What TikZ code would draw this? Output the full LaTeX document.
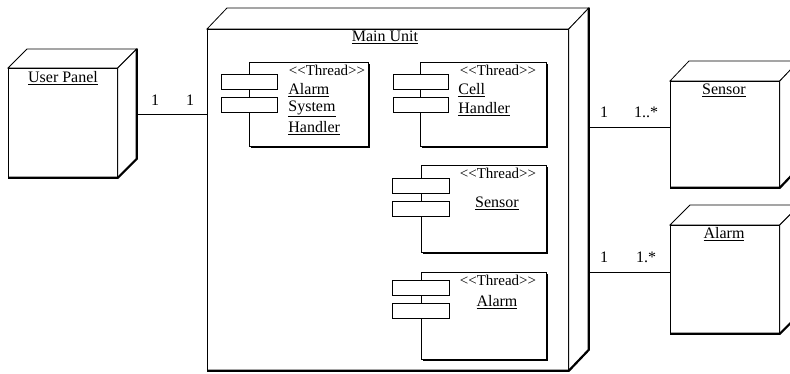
\documentclass[tikz,border=0pt]{standalone}
\usepackage{fontspec}
\setmainfont{Liberation Serif}[Ligatures=TeXOff]
\usetikzlibrary{calc}
\newcommand\mycube[7]{% name, x1,y1,x2,y2,dx,dy
  \node[draw, fill=white, inner sep=0pt, anchor=north west,
        minimum width=#4-#2, minimum height=#5-#3] (#1) at (#2,#3) {};
  \draw[fill=white] (#1.north west) -- ++(#6,-#7) -- ($(#1.north east)+(#6,-#7)$) -- (#1.north east) -- cycle;
  \draw[fill=white] (#1.north east) -- ($(#1.north east)+(#6,-#7)$) -- ($(#1.south east)+(#6,-#7)$) -- (#1.south east) -- cycle;
  \draw[line width=2.2pt] (#1.south west) -- (#1.south east) -- ($(#1.south east)+(#6,-#7)$) -- ($(#1.north east)+(#6,-#7)$);
}
\newcommand\mycomp[8]{% name, x1,y1,x2,y2, port x1, port x2, port y offset
  \draw[line width=2.2pt] (#2+2,#5+1) -- (#4+1,#5+1) -- (#4+1,#3+2);
  \node[draw, fill=white, inner sep=0pt, anchor=north west,
        minimum width=#4-#2, minimum height=#5-#3] (#1) at (#2,#3) {};
  \node[draw, fill=white, inner sep=0pt, anchor=north west,
        minimum width=#7-#6, minimum height=15] (#1p1) at (#6,#3+#8) {};
  \node[draw, fill=white, inner sep=0pt, anchor=north west,
        minimum width=#7-#6, minimum height=15] (#1p2) at (#6,#3+#8+23) {};
}
\begin{document}
\begin{tikzpicture}[x=1pt,y=-1pt,line width=0.8pt,
  lbl/.style={font=\fontsize{16}{18}\selectfont, inner sep=0pt},
  stereo/.style={font=\fontsize{15}{17}\selectfont, inner sep=0pt}]
\useasboundingbox (0,0) rectangle (790,374);
\clip (0,0) rectangle (790,374);
\fill[white] (0,0) rectangle (790,374);

% cubes
\mycube{up}{8}{68}{117}{177}{19}{19}
\mycube{mu}{207}{29}{568}{370}{20}{21}
\mycube{sn}{670}{81}{779}{187}{19}{20}
\mycube{al}{670}{225}{779}{333}{20}{20}

\node[lbl] (upt) at (63,78) {\underline{User Panel}};
\node[lbl] (mut) at (385,37) {\underline{Main Unit}};
\node[lbl] (snt) at (724,90) {\underline{Sensor}};
\node[lbl] (alt) at (724,234) {\underline{Alarm}};

% components
\mycomp{c1}{249}{62}{368}{146}{221}{277}{12}
\mycomp{c2}{420}{62}{546}{146}{393}{448}{12}
\mycomp{c3}{421}{165}{546}{252}{392}{449}{13}
\mycomp{c4}{421}{272}{546}{359}{392}{449}{8}

\node[stereo] (c1s) at (327,70) {<<Thread>>};
\node[lbl, anchor=west] (c1a) at (288,90) {\underline{Alarm}};
\node[lbl, anchor=west] (c1b) at (288,109) {\underline{System}};
\node[lbl, anchor=west] (c1c) at (288,128) {\underline{Handler}};

\node[stereo] (c2s) at (498,70) {<<Thread>>};
\node[lbl, anchor=west] (c2a) at (458,90) {\underline{Cell}};
\node[lbl, anchor=west] (c2b) at (458,109) {\underline{Handler}};

\node[stereo] (c3s) at (498,173) {<<Thread>>};
\node[lbl] (c3a) at (497,203) {\underline{Sensor}};

\node[stereo] (c4s) at (498,280) {<<Thread>>};
\node[lbl] (c4a) at (497,302) {\underline{Alarm}};

% connectors
\coordinate (upR) at ($(up.east)+(19,-8)$);
\coordinate (muR1) at (588,127);
\coordinate (muR2) at (588,272);
\draw (upR) -- (mu.west |- upR);
\draw (muR1) -- (sn.west |- muR1);
\draw (muR2) -- (al.west |- muR2);

\node[lbl] (m1) at (155,100) {1};
\node[lbl] (m2) at (190,100) {1};
\node[lbl] (m3) at (604,112) {1};
\node[lbl] (m4) at (646,112) {1..*};
\node[lbl] (m5) at (604,257) {1};
\node[lbl] (m6) at (646,257) {1.*};
\end{tikzpicture}
\end{document}
